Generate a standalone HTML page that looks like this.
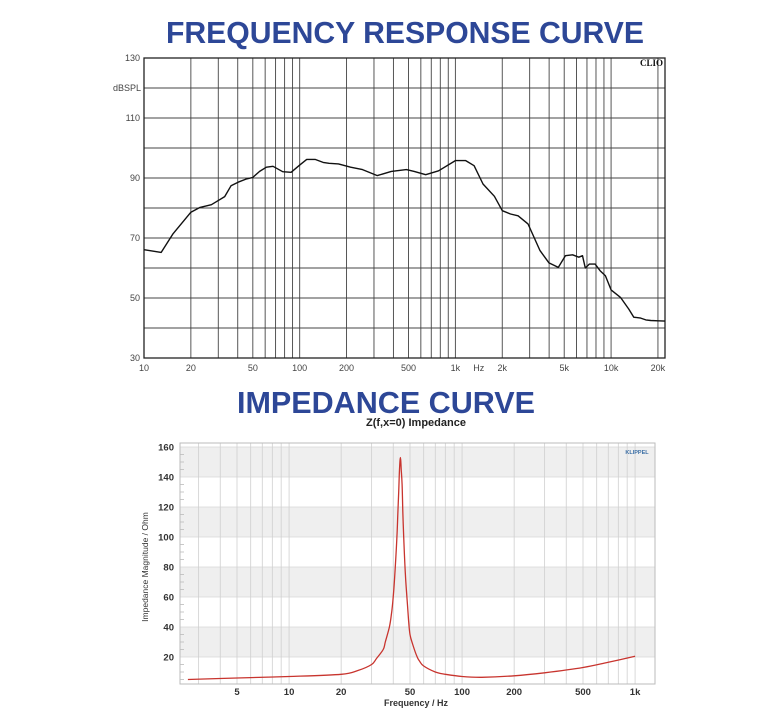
<!DOCTYPE html>
<html><head><meta charset="utf-8"><style>
html,body{margin:0;padding:0;background:#fff;}
svg{display:block;font-family:"Liberation Sans",sans-serif;}
</style></head><body>
<svg id="s" width="761" height="714" viewBox="0 0 761 714">
<text x="166" y="43" font-size="31" font-weight="bold" fill="#2d4797" textLength="478" lengthAdjust="spacingAndGlyphs">FREQUENCY RESPONSE CURVE</text>
<text x="237" y="413" font-size="31" font-weight="bold" fill="#2d4797" textLength="298" lengthAdjust="spacingAndGlyphs">IMPEDANCE CURVE</text>
<g id="fr"></g>
<g id="imp"></g>
</svg>
<script>
// Frequency response data
const frFreq=[10,12.9,15.3,20,22.9,27.1,29.8,33,36.2,40.2,45.6,50,55.3,61.1,67.4,77.8,88.1,100.4,111,125.6,141.4,154.4,177.6,212.3,253.2,315.3,387.5,484.9,544,645,780,1000,1165,1318,1505,1780,2000,2260,2527,2925,3495,3990,4585,5090,5660,6200,6550,6830,7250,7900,8500,9200,10000,11500,13000,14000,15500,16700,18000,20000,22200];
const frDb=[66.1,65.2,71.3,78.6,80.2,81.1,82.4,83.8,87.4,88.6,89.7,90.2,92.2,93.6,93.9,92.1,91.9,94.4,96.2,96.2,95.2,94.9,94.7,93.6,92.8,90.8,92.2,92.8,92.2,91.1,92.4,95.8,95.8,94.1,88,83.9,79.1,78,77.4,74.7,65.8,61.7,60.2,64.1,64.4,63.6,64.1,60,61.3,61.3,59.1,57.4,52.7,50.2,46.3,43.6,43.3,42.7,42.5,42.4,42.3];
const frYTicks=[30,50,70,90,110,130];
const frXTickVals=[10,20,50,100,200,500,1000,2000,5000,10000,20000];
const frXTickLabels=["10","20","50","100","200","500","1k","2k","5k","10k","20k"];
// Impedance data
const zFreq=[2.6,5,10,20,25,30,32,35,36,38,39,40,41,42,42.5,43,43.5,44,44.5,45,45.5,46,47,48,49,50,52,55,57,60,70,80,100,130,200,300,500,700,1000];
const zOhm=[5,6,7,8.5,11,15,19,25,30,40,48,60,78,100,115,130,145,153,145,135,115,100,75,60,45,35,28,20,17,14,10,8.5,7,6.5,7.5,9.5,13,16.5,20.5];
const zYTicks=[20,40,60,80,100,120,140,160];
const zXTickVals=[5,10,20,50,100,200,500,1000];
const zXTickLabels=["5","10","20","50","100","200","500","1k"];

const NS="http://www.w3.org/2000/svg";
function mk(parent,tag,attrs,txt){const e=document.createElementNS(NS,tag);for(const k in attrs)e.setAttribute(k,attrs[k]);if(txt!==undefined)e.textContent=txt;parent.appendChild(e);return e;}
function smooth(pts){let d='M'+pts[0][0].toFixed(1)+','+pts[0][1].toFixed(1);for(let i=0;i<pts.length-1;i++){const p0=pts[Math.max(0,i-1)],p1=pts[i],p2=pts[i+1],p3=pts[Math.min(pts.length-1,i+2)];const c1=[p1[0]+(p2[0]-p0[0])/6,p1[1]+(p2[1]-p0[1])/6],c2=[p2[0]-(p3[0]-p1[0])/6,p2[1]-(p3[1]-p1[1])/6];d+='C'+c1.map(v=>v.toFixed(1)).join(',')+' '+c2.map(v=>v.toFixed(1)).join(',')+' '+p2[0].toFixed(1)+','+p2[1].toFixed(1);}return d;}

// FR chart
const fr=document.getElementById('fr');
const fL=144,fR=665,fT=58,fB=358,fMin=10,fMax=22200;
const fx=f=>fL+(Math.log10(f)-Math.log10(fMin))/(Math.log10(fMax)-Math.log10(fMin))*(fR-fL);
const fy=d=>fB-(d-30)/100*(fB-fT);
for(let d=40;d<130;d+=10){const l=mk(fr,'line',{x1:fL,x2:fR,y1:fy(d),y2:fy(d),stroke:'#444','stroke-width':0.9});

}
for(let dec=10;dec<=10000;dec*=10){for(let m=1;m<=9;m++){const f=dec*m;if(f<=fMin||f>=fMax)continue;const l=mk(fr,'line',{x1:fx(f),x2:fx(f),y1:fT,y2:fB,stroke:'#444','stroke-width':0.9});

}}
const fb=mk(fr,'rect',{x:fL,y:fT,width:fR-fL,height:fB-fT,fill:'none',stroke:'#222','stroke-width':1.3});


frYTicks.forEach(d=>{const t=mk(fr,'text',{x:fL-4,y:fy(d)+3,'font-size':9,fill:'#444','text-anchor':'end'},String(d));

});
const yu=mk(fr,'text',{x:fL-3,y:fy(120)+3,'font-size':9,fill:'#444','text-anchor':'end'},'dBSPL');


frXTickVals.forEach((f,i)=>{const t=mk(fr,'text',{x:fx(f),y:fB+13,'font-size':9,fill:'#444','text-anchor':'middle'},frXTickLabels[i]);

});
const hz=mk(fr,'text',{x:fx(1414),y:fB+13,'font-size':9,fill:'#444','text-anchor':'middle'},'Hz');


const clio=mk(fr,'text',{x:fR-2,y:fT+8,'font-size':9,'font-weight':'bold','font-family':'Liberation Serif,serif',fill:'#111','text-anchor':'end'},'CLIO');


const frp=mk(fr,'path',{d:frFreq.map((f,i)=>(i?'L':'M')+fx(f).toFixed(1)+','+fy(frDb[i]).toFixed(1)).join(''),fill:'none',stroke:'#111','stroke-width':1.4,'stroke-linejoin':'round'});



// Impedance chart
const im=document.getElementById('imp');
const zL=180,zR=655,zT=443,zB=684,z5=237,zDec=173;
const zx=f=>z5+Math.log10(f/5)*zDec;
const zy=o=>687-o*1.5;
for(let o=20;o<160;o+=40){const r=mk(im,'rect',{x:zL,y:zy(o+20),width:zR-zL,height:30,fill:'#efefef'});

}
zYTicks.forEach(o=>{const l=mk(im,'line',{x1:zL,x2:zR,y1:zy(o),y2:zy(o),stroke:'#d8d8d8','stroke-width':0.8});


const t=mk(im,'text',{x:zL-6,y:zy(o)+3.5,'font-size':9.5,'font-weight':'bold',fill:'#333','text-anchor':'end'},String(o));

});
for(let o=5;o<160;o+=5){if(o%20===0)continue;const l=mk(im,'line',{x1:zL,x2:zL+4,y1:zy(o),y2:zy(o),stroke:'#bbb','stroke-width':0.8});

}
[3,4,5,6,7,8,9,10,20,30,40,50,60,70,80,90,100,200,300,400,500,600,700,800,900,1000].forEach(f=>{const l=mk(im,'line',{x1:zx(f),x2:zx(f),y1:zT,y2:zB,stroke:'#cfcfcf','stroke-width':0.8});

});
const zb=mk(im,'rect',{x:zL,y:zT,width:zR-zL,height:zB-zT,fill:'none',stroke:'#bbb','stroke-width':1});


zXTickVals.forEach((f,i)=>{const t=mk(im,'text',{x:zx(f),y:zB+11,'font-size':9.5,'font-weight':'bold',fill:'#333','text-anchor':'middle'},zXTickLabels[i]);

});
const xt=mk(im,'text',{x:416,y:706,'font-size':9,'font-weight':'bold',fill:'#333','text-anchor':'middle'},'Frequency / Hz');


const yt=mk(im,'text',{x:0,y:0,'font-size':8.5,fill:'#333','text-anchor':'middle',transform:'translate(148,567) rotate(-90)'},'Impedance Magnitude / Ohm');


const st=mk(im,'text',{x:416,y:426,'font-size':11,'font-weight':'bold',fill:'#222','text-anchor':'middle'},'Z(f,x=0) Impedance');


const kl=mk(im,'text',{x:637,y:454,'font-size':5.5,'font-weight':'bold',fill:'#3a6ea5','text-anchor':'middle'},'KLIPPEL');


const zp=mk(im,'path',{d:smooth(zFreq.map((f,i)=>[zx(f),zy(zOhm[i])])),fill:'none',stroke:'#c8342e','stroke-width':1.3,'stroke-linejoin':'round'});


</script>
</body></html>
